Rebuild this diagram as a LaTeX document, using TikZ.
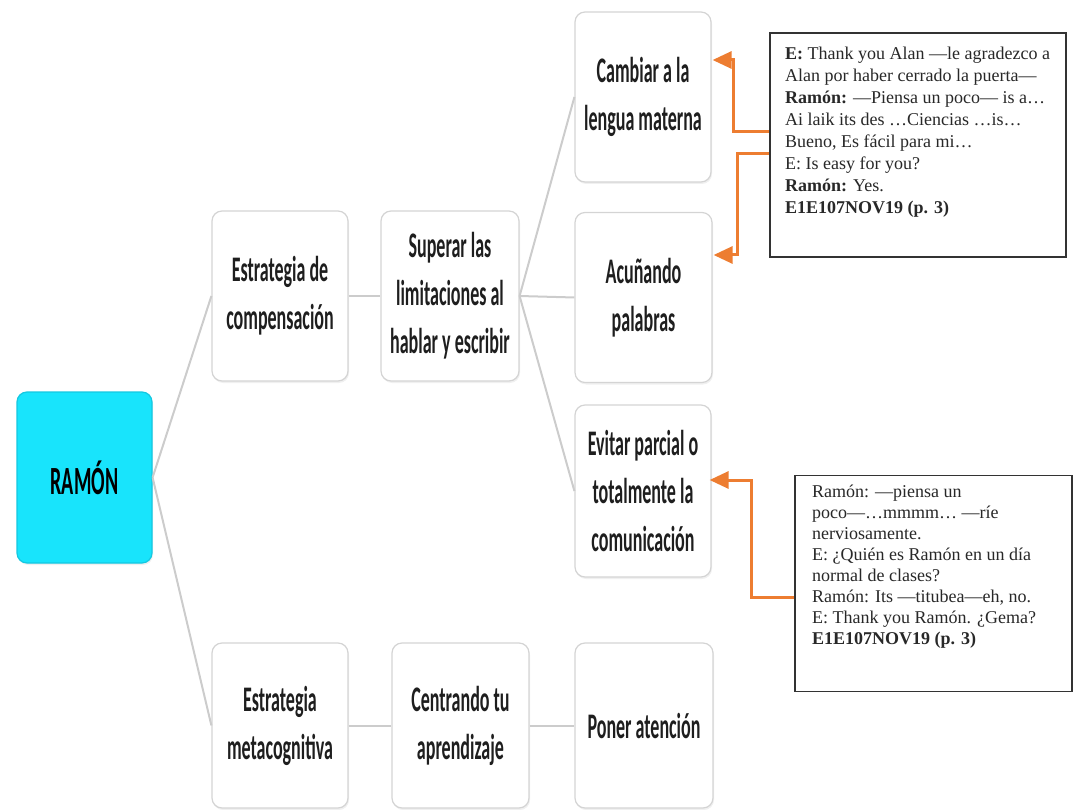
\documentclass[tikz,border=0pt]{standalone}
\usepackage{fontspec}
\newfontfamily\cond[FakeStretch=0.50,BoldFont={Carlito Bold}]{Carlito Bold}
\newfontfamily\callfont{Liberation Serif}
\usetikzlibrary{arrows.meta,shadows}
\definecolor{cyanbox}{RGB}{24,228,252}
\definecolor{cyanedge}{RGB}{20,200,225}
\definecolor{boxgray}{RGB}{212,212,212}
\definecolor{linkgray}{RGB}{204,204,204}
\definecolor{txt}{RGB}{30,30,30}
\definecolor{callorange}{RGB}{237,125,49}
\definecolor{calltxt}{RGB}{40,40,40}
\tikzset{
  topic/.style={draw=boxgray, line width=1.2pt, fill=white, rounded corners=10pt,
    minimum width=136pt, minimum height=170pt, inner sep=2pt, align=center,
    text=txt, font=\cond\fontsize{36}{48}\selectfont,
    drop shadow={shadow xshift=1pt, shadow yshift=-2pt, opacity=0.12}},
  rootbox/.style={topic, fill=cyanbox, draw=cyanedge, text={RGB:red,10;green,25;blue,50},
    font=\cond\fontsize{40}{48}\selectfont},
  link/.style={draw=linkgray, line width=2pt},
  callbox/.style={draw=black!80, line width=1.8pt, fill=white, inner sep=0pt},
  calltext/.style={anchor=north west, inner sep=0pt, align=left, text=calltxt,
    font=\callfont\fontsize{18}{22}\selectfont},
  oarrow/.style={draw=callorange, line width=3pt,
    -{Triangle[length=19pt,width=17pt]}}
}
\begin{document}
\begin{tikzpicture}[x=1pt,y=-1pt]
\useasboundingbox (0,0) rectangle (1073,810);

% nodes
\node[rootbox, minimum width=135pt, minimum height=171pt] (ramon) at (84.5,477.5) {RAMÓN};
\node[topic] (est) at (280,296) {Estrategia de\\compensación};
\node[topic, minimum width=138pt] (sup) at (450,296) {Superar las\\limitaciones al\\hablar y escribir};
\node[topic] (camb) at (643,97) {Cambiar a la\\lengua materna};
\node[topic, minimum width=137pt] (acun) at (643.5,297.5) {Acuñando\\palabras};
\node[topic, minimum height=172pt] (evit) at (643,491) {Evitar parcial o\\totalmente la\\comunicación};
\node[topic, minimum height=165pt] (meta) at (280,725.5) {Estrategia\\metacognitiva};
\node[topic, minimum width=137pt, minimum height=165pt] (cent) at (460.5,725.5) {Centrando tu\\aprendizaje};
\node[topic, minimum width=138pt, minimum height=165pt] (pon) at (644,725.5) {Poner atención};

% connectors
\draw[link] (ramon.east) -- (est.west);
\draw[link] (ramon.east) -- (meta.west);
\draw[link] (est.east) -- (sup.west);
\draw[link] (sup.east) -- (camb.west);
\draw[link] (sup.east) -- (acun.west);
\draw[link] (sup.east) -- (evit.west);
\draw[link] (meta.east) -- (cent.west);
\draw[link] (cent.east) -- (pon.west);

% callout boxes
\node[callbox, minimum width=296pt, minimum height=224pt] (call1) at (918,145) {};
\node[calltext] (t1) at (785,46.5) {\textbf{E:} Thank you Alan —le agradezco a\\
Alan por haber cerrado la puerta—\\
\textbf{Ramón:} —Piensa un poco— is a…\\
Ai laik its des …Ciencias …is…\\
Bueno, Es fácil para mi…\\
E: Is easy for you?\\
\textbf{Ramón:} Yes.\\
\textbf{E1E107NOV19 (p. 3)}};

\node[callbox, minimum width=277pt, minimum height=216pt] (call2) at (933.5,583.5) {};
\node[calltext, font=\callfont\fontsize{18}{21}\selectfont] (t2) at (812,485) {Ramón: —piensa un\\
poco—…mmmm… —ríe\\
nerviosamente.\\
E: ¿Quién es Ramón en un día\\
normal de clases?\\
Ramón: Its —titubea—eh, no.\\
E: Thank you Ramón. ¿Gema?\\
\textbf{E1E107NOV19 (p. 3)}};

% orange arrows
\coordinate (k1) at (733,132);
\coordinate (k2) at (737,154);
\coordinate (k3) at (751,597);
\draw[oarrow] (call1.west |- k1) -- (k1) |- ([xshift=1pt]camb.east |- 0,60);
\draw[oarrow] (call1.west |- k2) -- (k2) |- ([xshift=1pt]acun.east |- 0,255);
\draw[oarrow] (call2.west |- k3) -- (k3) |- ([xshift=-2pt]evit.east |- 0,480);
\end{tikzpicture}
\end{document}
